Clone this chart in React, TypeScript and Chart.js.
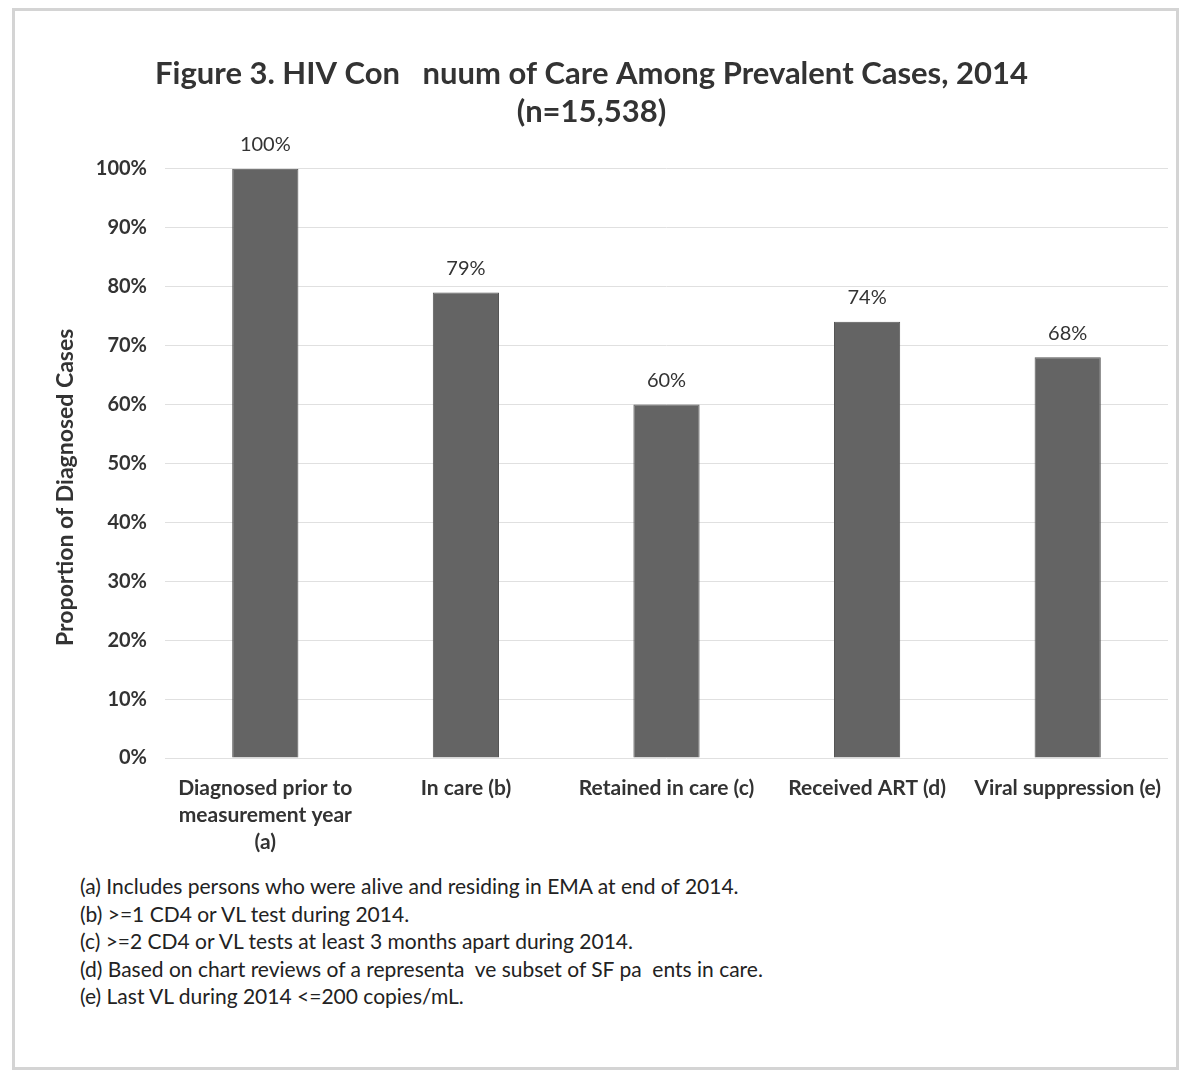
import React, { useEffect, useRef } from "react";
import { Chart, registerables } from "chart.js";

Chart.register(...registerables);

const titleLines = ["Figure 3. HIV Con   nuum of Care Among Prevalent Cases, 2014", "(n=15,538)"];
const categories: (string | string[])[] = [
  ["Diagnosed prior to", "measurement year", "(a)"],
  "In care (b)",
  "Retained in care (c)",
  "Received ART (d)",
  "Viral suppression (e)",
];
const values = [100, 79, 60, 74, 68];
const yTicks = [0, 10, 20, 30, 40, 50, 60, 70, 80, 90, 100];
const yAxisTitle = "Proportion of Diagnosed Cases";
const footnotes = [
  "(a) Includes persons who were alive and residing in EMA at end of 2014.",
  "(b) >=1 CD4 or VL test during 2014.",
  "(c) >=2 CD4 or VL tests at least 3 months apart during 2014.",
  "(d) Based on chart reviews of a representa  ve subset of SF pa  ents in care.",
  "(e) Last VL during 2014 <=200 copies/mL.",
];

const FONT = "Lato, 'Open Sans', sans-serif";
const TEXT = "#333333";

export default function App() {
  const ref = useRef<HTMLCanvasElement | null>(null);
  useEffect(() => {
    if (!ref.current) return;
    const labelPlugin = {
      id: "barLabels",
      afterDatasetsDraw(chart: any) {
        const ctx = chart.ctx;
        const meta = chart.getDatasetMeta(0);
        ctx.save();
        ctx.font = `20px ${FONT}`;
        ctx.fillStyle = TEXT;
        ctx.textAlign = "center";
        ctx.textBaseline = "middle";
        meta.data.forEach((bar: any, i: number) => {
          ctx.fillText(values[i] + "%", bar.x, bar.y - 24);
        });
        ctx.restore();
      },
    };
    const yTitlePlugin = {
      id: "yTitle",
      afterDraw(chart: any) {
        const ctx = chart.ctx;
        const a = chart.chartArea;
        ctx.save();
        ctx.translate(51, (a.top + a.bottom) / 2 + 24);
        ctx.rotate(-Math.PI / 2);
        ctx.font = `bold 23px ${FONT}`;
        ctx.fillStyle = TEXT;
        ctx.textAlign = "center";
        ctx.textBaseline = "middle";
        ctx.fillText(yAxisTitle, 0, 0);
        ctx.restore();
      },
    };
    const chart = new Chart(ref.current, {
      type: "bar",
      data: {
        labels: categories,
        datasets: [
          {
            data: values,
            backgroundColor: "#646464",
            borderColor: "#555555",
            borderWidth: 1,
            barPercentage: 0.33,
            categoryPercentage: 1,
          },
        ],
      },
      options: {
        responsive: false,
        animation: false,
        devicePixelRatio: 1,
        layout: { padding: { left: 0, right: 7, top: 44, bottom: 0 } },
        plugins: {
          legend: { display: false },
          tooltip: { enabled: false },
          title: {
            display: true,
            text: titleLines,
            color: TEXT,
            font: { family: FONT, size: 31, weight: "bold", lineHeight: 1.22 },
            padding: { top: 0, bottom: 38 },
          },
        },
        scales: {
          x: {
            grid: { display: false },
            border: { display: false },
            ticks: {
              color: TEXT,
              font: { family: FONT, size: 21, weight: "bold", lineHeight: 1.29 },
              padding: 9,
              autoSkip: false,
              maxRotation: 0,
            },
            afterFit: (s: any) => {
              s.height = 103;
            },
          },
          y: {
            min: 0,
            max: 100,
            afterBuildTicks: (s: any) => {
              s.ticks = yTicks.map((v) => ({ value: v }));
            },
            grid: { color: "#e0e0e0", drawTicks: false },
            border: { display: false },
            ticks: {
              color: TEXT,
              font: { family: FONT, size: 20, weight: "bold" },
              padding: 18,
              callback: (v: any) => v + "%",
            },
            afterFit: (s: any) => {
              s.width = 150;
            },
          },
        },
      },
      plugins: [labelPlugin, yTitlePlugin],
    });
    return () => chart.destroy();
  }, []);

  return (
    <div
      style={{
        position: "absolute",
        left: 12,
        top: 8,
        width: 1167,
        height: 1062,
        border: "3px solid #d4d4d4",
        boxSizing: "border-box",
        background: "#fff",
      }}
    >
      <canvas
        ref={ref}
        width={1160}
        height={850}
        style={{ position: "absolute", left: 0, top: 0, width: 1160, height: 850 }}
      />
      <div
        style={{
          position: "absolute",
          left: 65,
          top: 861,
          fontFamily: FONT,
          fontSize: 21,
          lineHeight: "27.5px",
          color: "#222",
        }}
      >
        {footnotes.map((f, i) => (
          <div key={i} style={{ whiteSpace: "pre" }}>
            {f}
          </div>
        ))}
      </div>
    </div>
  );
}
